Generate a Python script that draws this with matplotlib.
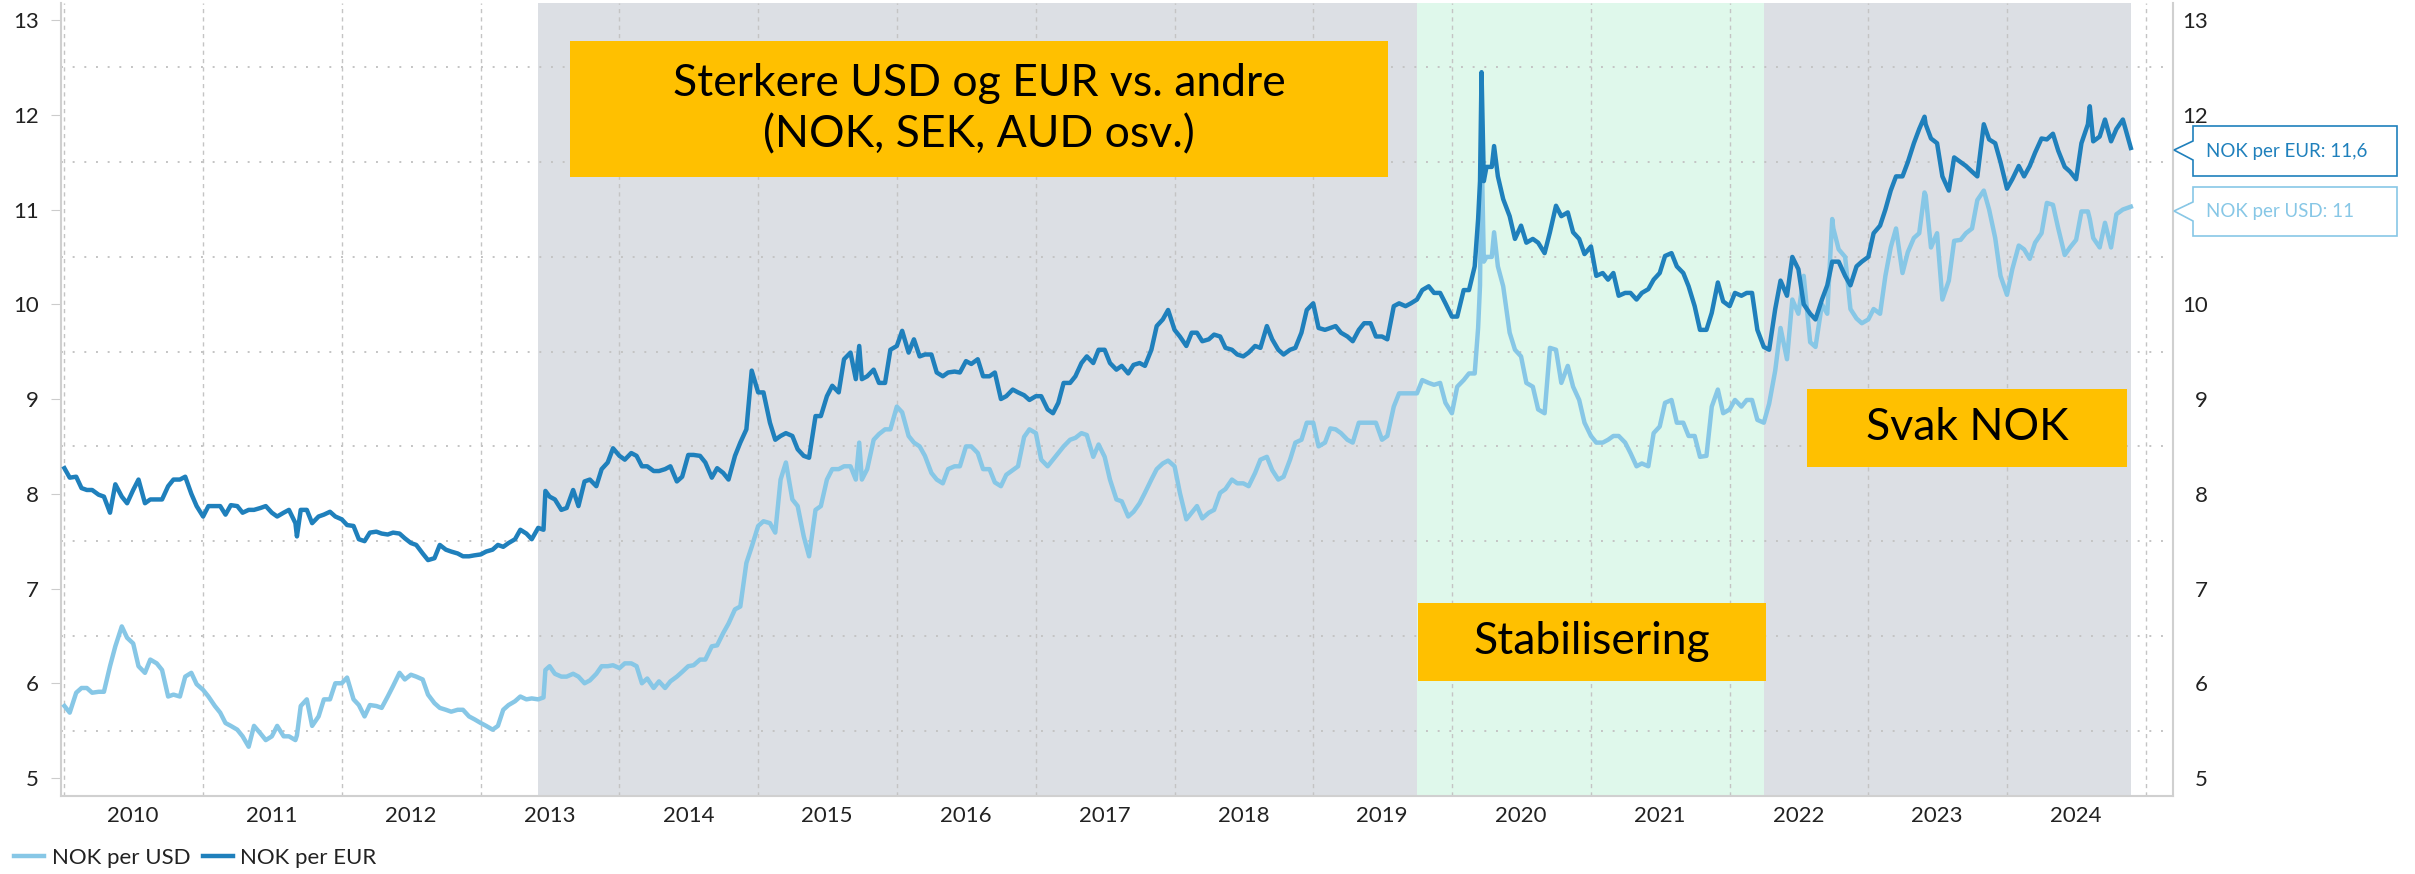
import numpy as np
import pandas as pd
import matplotlib
matplotlib.use("Agg")
import matplotlib.pyplot as plt
from matplotlib.patches import Rectangle, Polygon

plt.rcParams['font.family'] = ['Lato', 'DejaVu Sans']

# values on the 1st of each month, Jan 2010 - Nov 2024
eur_start = [
    8.27, 8.18, 8.04, 7.99, 7.80, 7.97, 8.04, 7.90, 7.94, 8.08, 8.15, 8.00,   # 2010
    7.76, 7.87, 7.78, 7.87, 7.83, 7.85, 7.80, 7.80, 7.69, 7.83, 7.76, 7.81,   # 2011
    7.73, 7.66, 7.50, 7.60, 7.57, 7.58, 7.48, 7.37, 7.32, 7.41, 7.37, 7.34,   # 2012
    7.36, 7.41, 7.44, 7.52, 7.58, 7.64, 7.97, 7.83, 8.04, 8.13, 8.08, 8.33,   # 2013
    8.40, 8.43, 8.29, 8.24, 8.26, 8.13, 8.41, 8.40, 8.17, 8.22, 8.40, 8.68,   # 2014
    9.07, 8.75, 8.61, 8.61, 8.40, 8.82, 9.03, 9.07, 9.49, 9.21, 9.31, 9.17,   # 2015
    9.56, 9.49, 9.45, 9.47, 9.24, 9.29, 9.40, 9.42, 9.24, 9.00, 9.10, 9.04,   # 2016
    9.03, 8.89, 8.96, 9.17, 9.38, 9.38, 9.52, 9.31, 9.27, 9.38, 9.52, 9.84,   # 2017
    9.73, 9.56, 9.70, 9.63, 9.66, 9.52, 9.45, 9.56, 9.77, 9.52, 9.52, 9.70,   # 2018
    10.01, 9.73, 9.77, 9.66, 9.73, 9.80, 9.66, 9.98, 9.98, 10.05, 10.19, 10.12,  # 2019
    9.87, 10.15, 10.40, 11.45, 11.35, 10.93, 10.83, 10.69, 10.54, 11.04, 10.97, 10.69,  # 2020
    10.61, 10.33, 10.33, 10.12, 10.05, 10.16, 10.33, 10.54, 10.33, 9.98, 9.73, 10.23,  # 2021
    9.98, 10.09, 10.12, 9.55, 9.95, 10.09, 10.37, 9.90, 10.05, 10.45, 10.30, 10.40,  # 2022
    10.50, 10.83, 11.20, 11.35, 11.70, 11.90, 11.70, 11.20, 11.50, 11.40, 11.90, 11.70,  # 2023
    11.22, 11.46, 11.46, 11.75, 11.80, 11.45, 11.32, 11.90, 11.77, 11.72, 11.95,  # 2024
]
usd_start = [
    5.76, 5.90, 5.95, 5.91, 6.18, 6.60, 6.42, 6.11, 6.21, 5.86, 5.86, 6.11,   # 2010
    5.93, 5.76, 5.58, 5.51, 5.33, 5.47, 5.44, 5.44, 5.40, 5.83, 5.65, 5.83,   # 2011
    6.00, 5.83, 5.65, 5.76, 5.86, 6.11, 6.09, 6.04, 5.79, 5.72, 5.72, 5.65,   # 2012
    5.58, 5.51, 5.72, 5.81, 5.83, 5.83, 6.18, 6.07, 6.10, 6.00, 6.10, 6.18,   # 2013
    6.16, 6.21, 6.00, 5.95, 5.95, 6.07, 6.18, 6.25, 6.39, 6.53, 6.78, 7.27,   # 2014
    7.66, 7.69, 8.15, 7.94, 7.55, 7.83, 8.15, 8.26, 8.29, 8.15, 8.57, 8.68,   # 2015
    8.92, 8.61, 8.50, 8.22, 8.11, 8.29, 8.50, 8.43, 8.26, 8.08, 8.25, 8.60,   # 2016
    8.64, 8.29, 8.43, 8.57, 8.64, 8.39, 8.39, 7.94, 7.76, 7.90, 8.15, 8.32,   # 2017
    8.29, 7.73, 7.87, 7.80, 8.01, 8.15, 8.11, 8.22, 8.39, 8.15, 8.36, 8.57,   # 2018
    8.75, 8.54, 8.68, 8.57, 8.75, 8.75, 8.57, 8.92, 9.06, 9.06, 9.17, 9.17,   # 2019
    8.85, 9.20, 9.27, 10.50, 10.40, 9.70, 9.45, 9.13, 8.85, 9.52, 9.35, 8.99,  # 2020
    8.61, 8.54, 8.61, 8.54, 8.29, 8.29, 8.71, 8.99, 8.75, 8.61, 8.40, 9.10,   # 2021
    8.89, 8.92, 8.99, 8.75, 9.30, 9.42, 9.90, 9.60, 10.00, 10.80, 10.50, 9.85,  # 2022
    9.84, 9.90, 10.60, 10.33, 10.70, 11.15, 10.75, 10.25, 10.68, 10.80, 11.20, 10.70,  # 2023
    10.10, 10.62, 10.48, 10.75, 11.05, 10.52, 10.68, 10.98, 10.60, 10.60, 11.00,  # 2024
]

# values around the 15th of each month, Jan 2010 - Oct 2024
eur_mid = [
    8.17, 8.06, 8.04, 7.97, 8.10, 7.90, 8.15, 7.94, 7.94, 8.15, 8.18, 7.87,   # 2010
    7.87, 7.87, 7.88, 7.80, 7.83, 7.87, 7.76, 7.83, 7.83, 7.69, 7.78, 7.76,   # 2011
    7.67, 7.52, 7.59, 7.58, 7.59, 7.53, 7.46, 7.30, 7.46, 7.39, 7.34, 7.35,   # 2012
    7.39, 7.46, 7.48, 7.62, 7.52, 7.62, 7.94, 7.85, 7.87, 8.15, 8.26, 8.48,   # 2013
    8.36, 8.40, 8.29, 8.24, 8.29, 8.18, 8.41, 8.33, 8.27, 8.15, 8.54, 9.30,   # 2014
    9.07, 8.57, 8.64, 8.47, 8.38, 8.82, 9.14, 9.42, 9.21, 9.24, 9.17, 9.52,   # 2015
    9.72, 9.63, 9.47, 9.28, 9.28, 9.28, 9.37, 9.24, 9.28, 9.03, 9.07, 8.99,   # 2016
    9.03, 8.85, 9.17, 9.24, 9.45, 9.52, 9.38, 9.35, 9.36, 9.35, 9.77, 9.94,   # 2017
    9.66, 9.70, 9.61, 9.68, 9.54, 9.47, 9.49, 9.54, 9.63, 9.47, 9.54, 9.94,   # 2018
    9.75, 9.75, 9.70, 9.61, 9.80, 9.66, 9.63, 10.01, 10.01, 10.15, 10.12, 10.01,  # 2019
    9.87, 10.15, 11.30, 11.45, 11.11, 10.69, 10.65, 10.65, 10.76, 10.93, 10.76, 10.53,  # 2020
    10.30, 10.26, 10.09, 10.12, 10.12, 10.26, 10.51, 10.40, 10.19, 9.73, 9.91, 10.03,  # 2021
    10.12, 10.12, 9.73, 9.52, 10.25, 10.50, 10.00, 9.84, 10.20, 10.45, 10.20, 10.45,  # 2022
    10.75, 11.00, 11.35, 11.50, 11.85, 11.75, 11.35, 11.55, 11.46, 11.35, 11.74, 11.50,  # 2023
    11.32, 11.35, 11.60, 11.74, 11.62, 11.40, 11.70, 11.72, 11.95, 11.85,  # 2024
]
usd_mid = [
    5.69, 5.95, 5.90, 5.91, 6.39, 6.48, 6.18, 6.25, 6.14, 5.88, 6.07, 5.99,   # 2010
    5.86, 5.69, 5.55, 5.44, 5.55, 5.40, 5.55, 5.44, 5.76, 5.55, 5.83, 6.00,   # 2011
    6.06, 5.77, 5.77, 5.74, 5.97, 6.04, 6.07, 5.88, 5.74, 5.70, 5.72, 5.62,   # 2012
    5.55, 5.55, 5.77, 5.86, 5.84, 5.85, 6.10, 6.07, 6.07, 6.03, 6.18, 6.19,   # 2013
    6.21, 6.18, 6.05, 6.02, 6.02, 6.12, 6.19, 6.25, 6.40, 6.63, 6.81, 7.44,   # 2014
    7.71, 7.59, 8.33, 7.87, 7.34, 7.87, 8.26, 8.29, 8.15, 8.26, 8.63, 8.68,   # 2015
    8.86, 8.54, 8.40, 8.15, 8.26, 8.29, 8.50, 8.26, 8.12, 8.20, 8.29, 8.68,   # 2016
    8.36, 8.36, 8.50, 8.59, 8.62, 8.52, 8.15, 7.92, 7.81, 8.01, 8.26, 8.35,   # 2017
    8.01, 7.80, 7.74, 7.83, 8.05, 8.11, 8.08, 8.36, 8.25, 8.18, 8.54, 8.75,   # 2018
    8.50, 8.69, 8.64, 8.54, 8.75, 8.75, 8.61, 9.06, 9.06, 9.20, 9.15, 8.96,   # 2019
    9.13, 9.27, 10.20, 10.50, 10.19, 9.52, 9.17, 8.89, 9.54, 9.17, 9.13, 8.75,  # 2020
    8.54, 8.57, 8.61, 8.43, 8.32, 8.64, 8.96, 8.75, 8.61, 8.39, 8.92, 8.85,   # 2021
    8.99, 8.99, 8.78, 8.95, 9.75, 10.05, 10.30, 9.55, 9.90, 10.58, 9.95, 9.80,  # 2022
    9.95, 10.30, 10.80, 10.55, 10.75, 10.60, 10.05, 10.67, 10.75, 11.10, 11.00, 10.30,  # 2023
    10.37, 10.58, 10.65, 11.07, 10.80, 10.60, 10.98, 10.70, 10.86, 10.95,  # 2024
]

# spikes / turning points between those dates, and the last observation
extra_dates = ["2011-09-05", "2013-06-20", "2015-09-24", "2020-03-10", "2020-03-19",
               "2020-03-25", "2020-04-21", "2022-09-28", "2023-05-29", "2024-08-06", "2024-11-22"]
extra_eur = [7.55, 8.03, 9.56, 10.90, 12.45, 11.30, 11.67, 10.45, 11.98, 12.09, 11.65]
extra_usd = [5.45, 6.14, 8.54, 9.75, 11.70, 10.45, 10.76, 10.90, 11.18, 10.90, 11.03]

start_dates = pd.date_range("2010-01-01", periods=len(eur_start), freq="MS")
mid_dates = start_dates[:len(eur_mid)] + pd.Timedelta(days=14)

df = pd.DataFrame({
    "date": list(start_dates) + list(mid_dates) + list(pd.to_datetime(extra_dates)),
    "eur": eur_start + eur_mid + extra_eur,
    "usd": usd_start + usd_mid + extra_usd,
}).sort_values("date")

years = list(range(2010, 2025))
last_eur, last_usd = "11,6", "11"

grey_span = ("2013-06-01", "2024-11-22")
green_span = ("2019-10-01", "2022-04-01")

C_EUR = "#1f80bc"
C_USD = "#87c7e6"
YELLOW = "#ffc000"
GRID = "#c4c4c4"

W, H = 2415, 874
fig = plt.figure(figsize=(W / 100, H / 100), dpi=100)
ax = fig.add_axes([61 / W, 1 - 796 / H, (2173 - 61) / W, (796 - 3) / H])

ax.axvspan(pd.Timestamp(grey_span[0]), pd.Timestamp(grey_span[1]), color="#dcdfe4", lw=0, zorder=0)
ax.axvspan(pd.Timestamp(green_span[0]), pd.Timestamp(green_span[1]), color="#dff8eb", lw=0, zorder=0)

ax.plot(df["date"], df["usd"], color=C_USD, lw=3.2, zorder=3, label="NOK per USD")
ax.plot(df["date"], df["eur"], color=C_EUR, lw=3.2, zorder=4, label="NOK per EUR")

ax.set_xlim(pd.Timestamp("2009-12-23"), pd.Timestamp("2025-03-13"))
ax.set_ylim(4.81, 13.18)

# year labels mid-year, grid at year starts
ax.set_xticks([pd.Timestamp(f"{y}-07-01") for y in years])
ax.set_xticklabels([str(y) for y in years])
ax.set_xticks([pd.Timestamp(f"{y}-01-01") for y in range(2010, 2026)], minor=True)
ax.set_yticks(range(5, 14))
ax.set_yticks(np.arange(5.5, 13, 1.0), minor=True)
ax.grid(False)
ax.grid(True, which="minor", axis="x", color=GRID, lw=1.0, ls=(0, (3, 3)), zorder=1)
ax.grid(True, which="minor", axis="y", color=GRID, lw=1.4, ls=(0, (1, 5)), zorder=1)

ax.tick_params(axis="x", which="both", length=0, pad=7, labelsize=16, labelcolor="#222222")
ax.tick_params(axis="y", which="major", length=7, color="#cccccc", pad=9, labelsize=16, labelcolor="#222222")
ax.tick_params(axis="y", which="minor", length=0)

ax.spines["top"].set_visible(False)
for s in ["left", "bottom", "right"]:
    ax.spines[s].set_color("#d0d0d0")
    ax.spines[s].set_linewidth(1.5)

ax2 = ax.twinx()
ax2.set_ylim(ax.get_ylim())
ax2.set_yticks(range(5, 14))
ax2.tick_params(axis="y", length=0, pad=25, labelsize=16, labelcolor="#222222")
for lab in ax2.get_yticklabels():
    lab.set_horizontalalignment("right")
for s in ax2.spines.values():
    s.set_visible(False)


def fx(x):
    return x / W


def fy(y):
    return 1 - y / H


def label_box(x0, y0, x1, y1, text, size):
    fig.add_artist(Rectangle((fx(x0), fy(y1)), (x1 - x0) / W, (y1 - y0) / H,
                             transform=fig.transFigure, facecolor=YELLOW, edgecolor="none", zorder=5))
    fig.text(fx((x0 + x1) / 2), fy((y0 + y1) / 2), text, ha="center", va="center",
             fontsize=size, color="black", linespacing=1.3, zorder=6)


label_box(570, 41, 1388, 177, "Sterkere USD og EUR vs. andre\n(NOK, SEK, AUD osv.)", 32)
label_box(1418, 603, 1766, 681, "Stabilisering", 32)
label_box(1807, 389, 2127, 467, "Svak NOK", 32)


def callout(tip_y, top, bottom, text, color):
    pts = [(2174, tip_y), (2193, tip_y - 9), (2193, top), (2397, top), (2397, bottom),
           (2193, bottom), (2193, tip_y + 10)]
    fig.add_artist(Polygon([(fx(x), fy(y)) for x, y in pts], closed=True, transform=fig.transFigure,
                           facecolor="white", edgecolor=color, lw=1.2, zorder=5))
    fig.text(fx(2206), fy((top + bottom) / 2), text, ha="left", va="center",
             fontsize=13.5, color=color, zorder=6)


callout(150, 126, 176, f"NOK per EUR: {last_eur}", C_EUR)
callout(211, 187, 236, f"NOK per USD: {last_usd}", C_USD)

fig.legend(loc="center left", bbox_to_anchor=(fx(14), fy(858)), ncol=2, frameon=False,
           fontsize=16, handlelength=1.35, handletextpad=0.35, columnspacing=0.55,
           borderaxespad=0, borderpad=0)
for t in fig.legends[0].get_texts():
    t.set_color("#222222")

fig.savefig("out.png", dpi=100, facecolor="white")
